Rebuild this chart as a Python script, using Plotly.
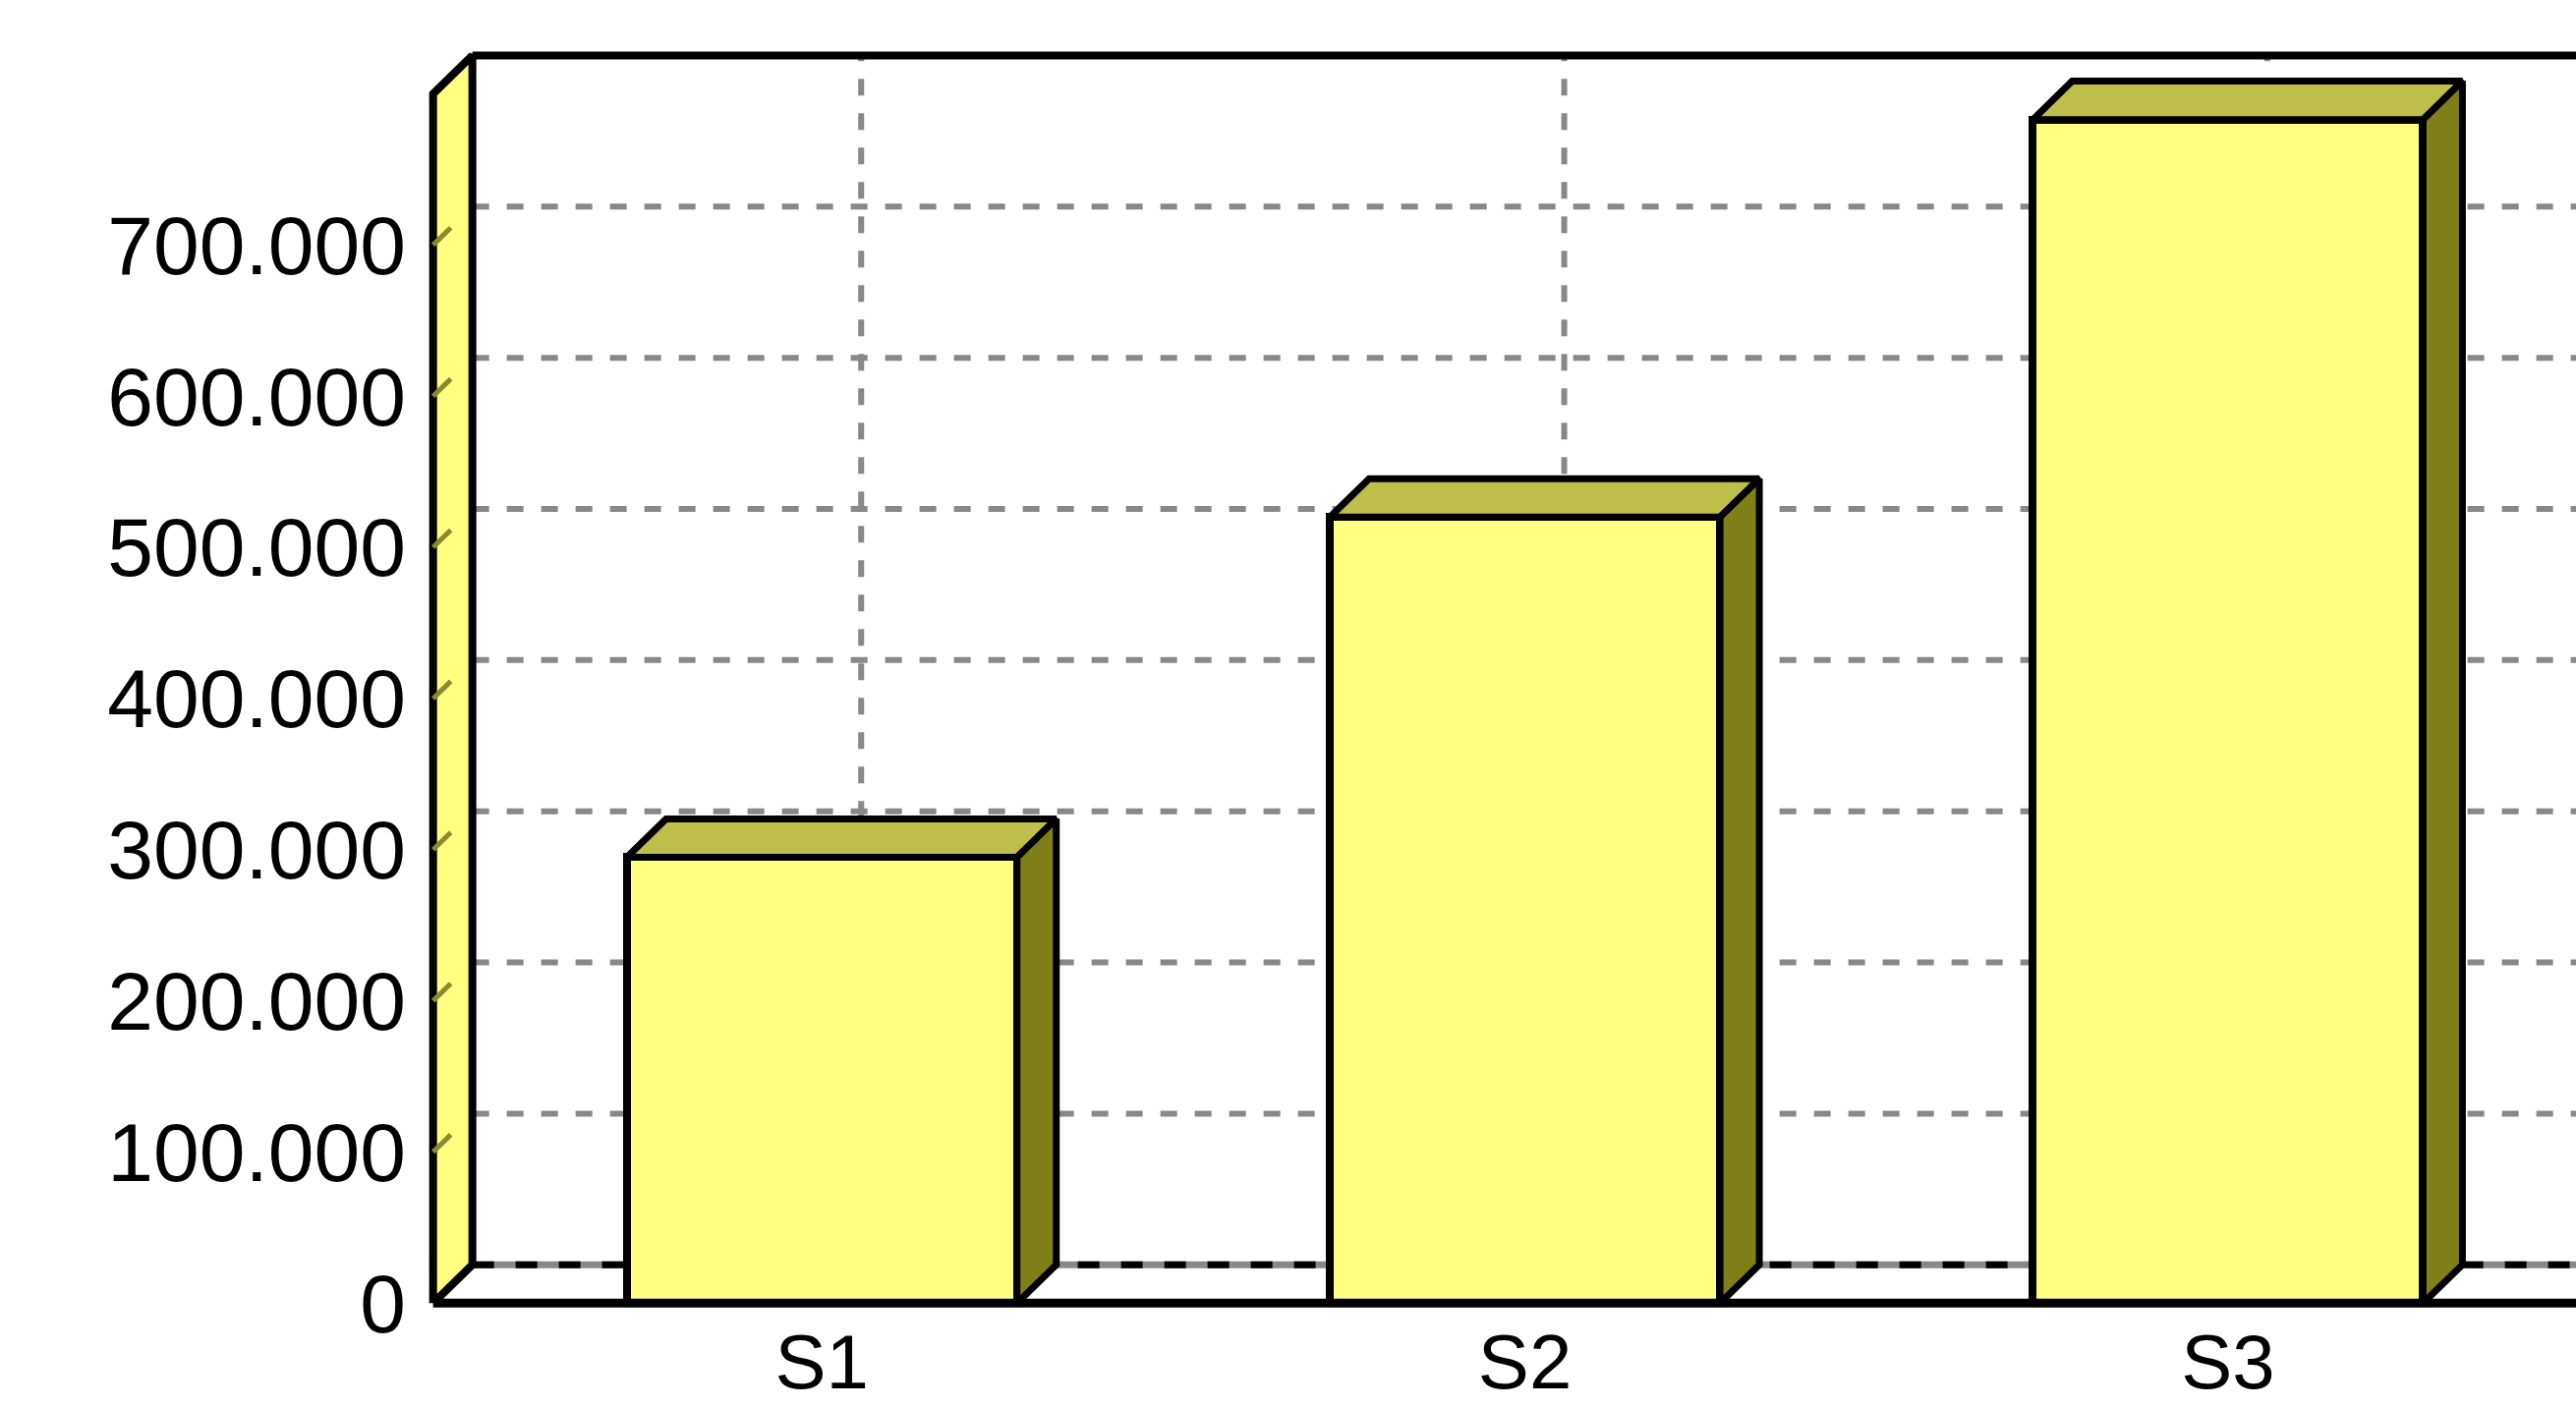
import plotly.graph_objects as go

# ---- data ----
categories = ["S1", "S2", "S3"]
values = [295000, 520000, 783000]
ytick_values = [0, 100000, 200000, 300000, 400000, 500000, 600000, 700000]
ytick_labels = ["0", "100.000", "200.000", "300.000", "400.000", "500.000", "600.000", "700.000"]
y_max = 800000

# ---- styling / geometry (pseudo-3D) ----
BAR_W = 0.555
DX = 0.0559          # depth offset in x data units
DY = 25400           # depth offset in y data units
WALL_X = -0.553      # front left wall position
X_START = WALL_X - 0.0065
X_END = 2.495
Y_LOW = -5000
Y_HIGH = 840000

FRONT = "#FFFF80"
TOP = "#BEBE4A"
SIDE = "#7F7F18"
GRID = "#888888"
BLACK = "#000000"
LW = 8

xs = list(range(len(categories)))
fig = go.Figure()

# back-wall gridlines as shapes (below traces)
shapes = []
for v in ytick_values[1:]:
    shapes.append(dict(type="line", xref="x", yref="y", x0=WALL_X + DX, x1=X_END,
                       y0=v + DY, y1=v + DY, layer="below",
                       line=dict(color=GRID, width=6, dash="17px,18px")))
# back floor line (grey + black alternating)
shapes.append(dict(type="line", xref="x", yref="y", x0=WALL_X + DX, x1=X_END,
                   y0=DY, y1=DY, layer="below", line=dict(color=GRID, width=7)))
shapes.append(dict(type="line", xref="x", yref="y", x0=WALL_X + DX, x1=X_END,
                   y0=DY, y1=DY, layer="below", line=dict(color=BLACK, width=7, dash="22px,22px")))
for i in xs:
    shapes.append(dict(type="line", xref="x", yref="y", x0=i + DX, x1=i + DX,
                       y0=DY, y1=y_max + DY, layer="below",
                       line=dict(color=GRID, width=6, dash="17px,18px")))

# left side wall
fig.add_trace(go.Scatter(
    x=[WALL_X, WALL_X, WALL_X + DX, WALL_X + DX, WALL_X],
    y=[0, y_max, y_max + DY, DY, 0],
    mode="lines", fill="toself", fillcolor=FRONT,
    line=dict(color=BLACK, width=LW), hoverinfo="skip", showlegend=False))
# tick diagonals on the side wall
for v in ytick_values[1:]:
    fig.add_trace(go.Scatter(
        x=[WALL_X, WALL_X + DX * 0.45], y=[v, v + DY * 0.45], mode="lines",
        line=dict(color="#8A8A30", width=5), hoverinfo="skip", showlegend=False))
# top border of the back wall
fig.add_trace(go.Scatter(x=[WALL_X + DX, X_END], y=[y_max + DY, y_max + DY], mode="lines",
                         line=dict(color=BLACK, width=LW), hoverinfo="skip", showlegend=False))

# front faces of bars
fig.add_trace(go.Bar(x=xs, y=values, width=BAR_W,
                     marker=dict(color=FRONT, line=dict(color=BLACK, width=LW)),
                     showlegend=False))

# top and side faces
for i, v in zip(xs, values):
    l, r = i - BAR_W / 2, i + BAR_W / 2
    fig.add_trace(go.Scatter(
        x=[l, l + DX, r + DX, r, l], y=[v, v + DY, v + DY, v, v],
        mode="lines", fill="toself", fillcolor=TOP,
        line=dict(color=BLACK, width=LW - 1), hoverinfo="skip", showlegend=False))
    fig.add_trace(go.Scatter(
        x=[r, r + DX, r + DX, r, r], y=[0, DY, v + DY, v, 0],
        mode="lines", fill="toself", fillcolor=SIDE,
        line=dict(color=BLACK, width=LW - 1), hoverinfo="skip", showlegend=False))

# front baseline
fig.add_trace(go.Scatter(x=[WALL_X, X_END], y=[0, 0], mode="lines",
                         line=dict(color=BLACK, width=LW + 1), hoverinfo="skip", showlegend=False))

fig.update_layout(
    width=2621, height=1432,
    margin=dict(l=436, r=0, t=34, b=98, autoexpand=False),
    paper_bgcolor="white", plot_bgcolor="white",
    font=dict(family="Liberation Sans, Arial, sans-serif", size=84, color="black"),
    shapes=shapes,
    bargap=0,
    showlegend=False,
)
fig.update_xaxes(range=[X_START, X_END], tickvals=xs, ticktext=categories,
                 showgrid=False, zeroline=False, showline=False, ticks="",
                 automargin=False, ticklabelstandoff=0, tickfont=dict(size=78))
fig.update_yaxes(range=[Y_LOW, Y_HIGH], tickvals=ytick_values, ticktext=ytick_labels,
                 showgrid=False, zeroline=False, showline=False, ticks="",
                 automargin=False, ticklabelstandoff=22, tickfont=dict(size=84))

fig.write_html("out.html", config={"displayModeBar": False},
               post_script="document.body.style.margin='0';document.body.style.overflow='hidden';")
